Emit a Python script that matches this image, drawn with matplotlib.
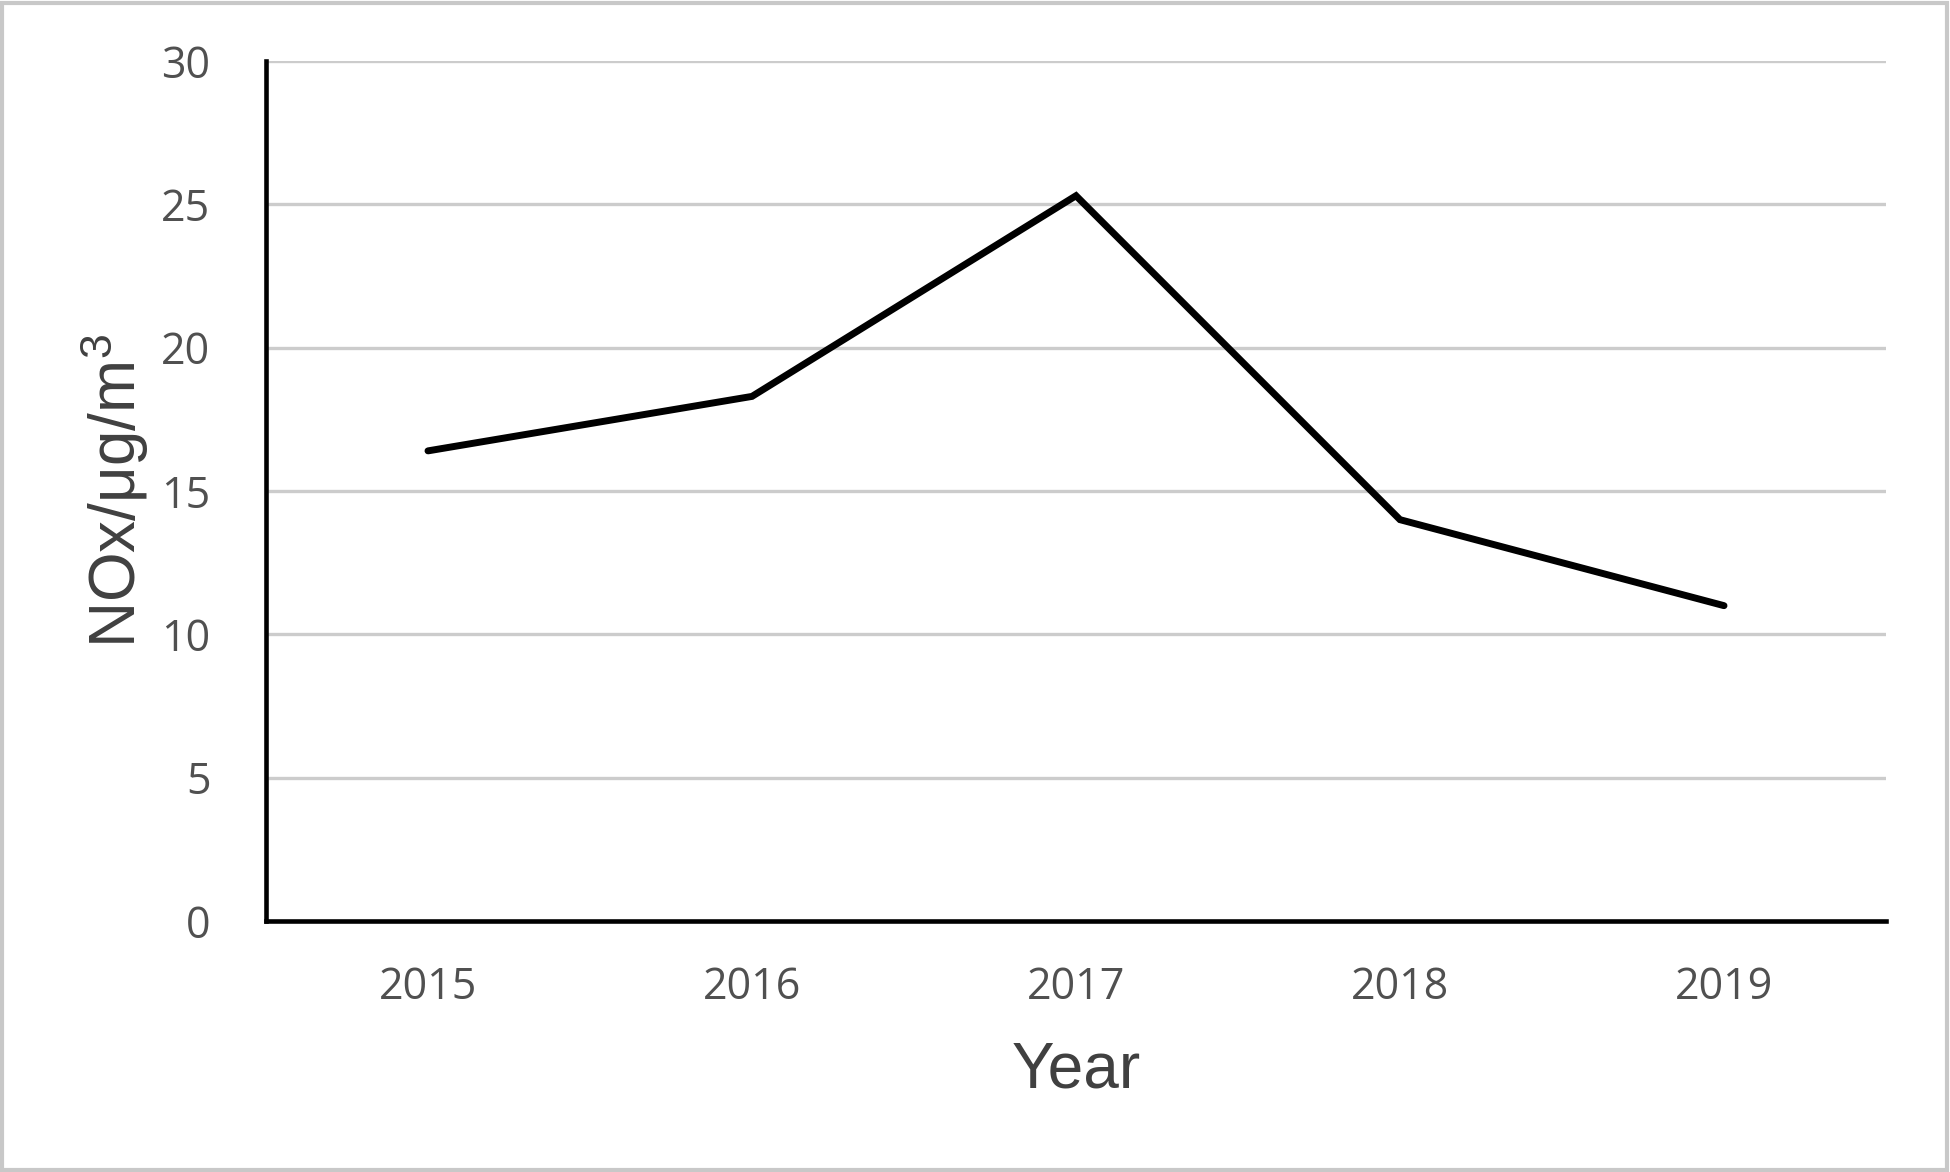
import matplotlib
matplotlib.use("Agg")
import matplotlib.pyplot as plt
from matplotlib.patches import Rectangle

years = ["2015", "2016", "2017", "2018", "2019"]
nox = [16.4, 18.3, 25.3, 14.0, 11.0]
yticks = [0, 5, 10, 15, 20, 25, 30]

fig = plt.figure(figsize=(19.5, 11.72), dpi=100)
W, H = 1950, 1172
left, right, top, bottom = 266, 1886, 61, 921
ax = fig.add_axes([left / W, 1 - bottom / H, (right - left) / W, (bottom - top) / H])

x = list(range(len(years)))
ax.plot(x, nox, color="black", lw=5.0, solid_capstyle="round", solid_joinstyle="miter", zorder=3)

ax.set_xlim(-0.5, len(years) - 0.5)
ax.set_ylim(0, 30)
ax.set_yticks(yticks)
ax.set_yticklabels([str(t) for t in yticks])
ax.set_xticks(x)
ax.set_xticklabels(years)

ax.grid(axis="y", color="#cccccc", lw=2.4, zorder=0)
ax.set_axisbelow(True)

for s in ["top", "right"]:
    ax.spines[s].set_visible(False)
for s in ["left", "bottom"]:
    ax.spines[s].set_color("black")
    ax.spines[s].set_linewidth(3.3)
    ax.spines[s].set_zorder(4)

ax.tick_params(axis="both", length=0, labelsize=31, labelcolor="#505050")
ax.tick_params(axis="y", pad=40)
ax.tick_params(axis="x", pad=32)
for lab in ax.get_xticklabels() + ax.get_yticklabels():
    lab.set_fontfamily("Open Sans")

ax.set_xlabel("Year", fontsize=46, color="#404040", family="Liberation Sans", labelpad=22)
ax.set_ylabel(r"$\mathregular{NOx/μg/m^3}$", fontsize=46, color="#404040",
              family="Liberation Sans", labelpad=7)

fig.patches.append(Rectangle((2 / W, 2 / H), 1 - 5 / W, 1 - 5 / H, transform=fig.transFigure,
                             fill=False, edgecolor="#c8c8c8", lw=3))

fig.savefig("out.png", dpi=100, facecolor="white")
